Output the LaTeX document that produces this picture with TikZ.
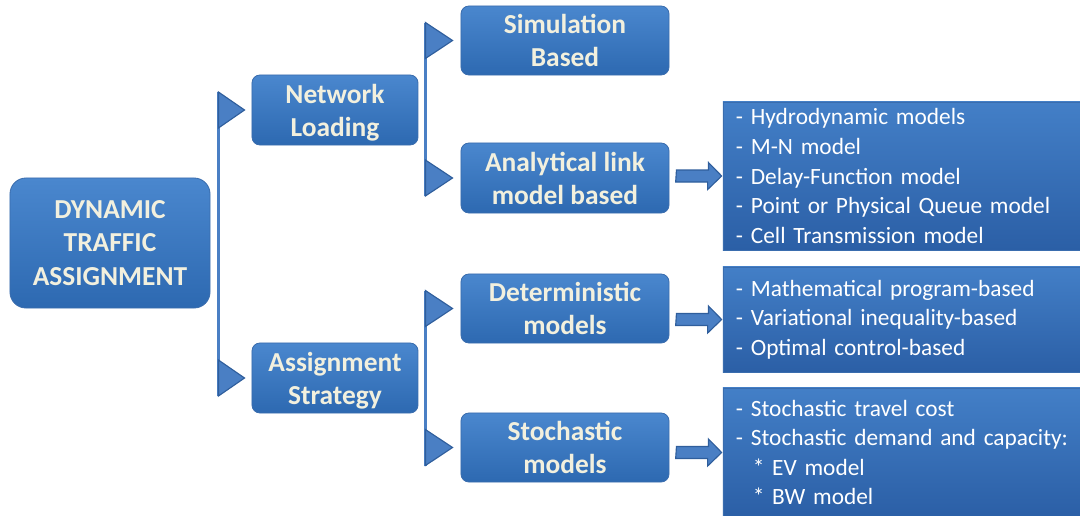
\documentclass[tikz,border=0pt]{standalone}
\usepackage{fontspec}
\setmainfont{Carlito}
\usepackage{tikz}
\usetikzlibrary{calc, shadows}
\definecolor{boxtop}{HTML}{4A87CE}
\definecolor{boxbot}{HTML}{2D69B1}
\definecolor{boxline}{HTML}{3A6DAE}
\definecolor{listtop}{HTML}{437FC7}
\definecolor{listbot}{HTML}{2B5FA6}
\definecolor{brfill}{HTML}{4A7FC4}
\definecolor{brline}{HTML}{2F5E9C}
\definecolor{titletext}{HTML}{F2F0DE}
\tikzset{
  catbox/.style={draw=boxline, line width=0.6pt, top color=boxtop, bottom color=boxbot,
    rounded corners=0.2cm, inner sep=2pt, text=titletext, align=center, text depth=0pt,
    font=\fontsize{19.5}{23.5}\selectfont\bfseries},
  listbox/.style={draw=boxline, line width=0.4pt, top color=listtop, bottom color=listbot,
    inner xsep=0.325cm, inner ysep=2pt, text width=8.275cm, align=left, text=white,
    font=\fontsize{16.6}{21}\selectfont},
  brbar/.style={draw=brfill, line width=2.2pt},
  brtri/.style={fill=brfill, draw=brline, line width=0.8pt, line join=miter},
  blockarr/.style={fill=brfill, draw=brline, line width=0.8pt, line join=miter}
}

\begin{document}
\begin{tikzpicture}[x=0.025cm, y=-0.025cm]
\useasboundingbox (0,0) rectangle (1080,515);

% main and first level
\node[catbox, rounded corners=0.4cm, minimum width=5cm, minimum height=3.25cm] (dta) at (110,243) {DYNAMIC\\TRAFFIC\\ASSIGNMENT};
\node[catbox, minimum width=4.15cm, minimum height=1.75cm] (nl) at (335,110) {Network\\Loading};
\node[catbox, minimum width=4.15cm, minimum height=1.75cm] (as) at (335,378) {Assignment\\Strategy};

% second level
\node[catbox, minimum width=5.2cm, minimum height=1.725cm] (sb) at (565,40.5) {Simulation\\Based};
\node[catbox, minimum width=5.2cm, minimum height=1.75cm] (an) at (565,178) {Analytical link\\model based};
\node[catbox, minimum width=5.2cm, minimum height=1.725cm] (dm) at (565,308.5) {Deterministic\\models};
\node[catbox, minimum width=5.2cm, minimum height=1.725cm] (st) at (565,447.5) {Stochastic\\models};

% model lists
\node[listbox, minimum height=3.7cm] (l1) at (901.5,176) {- Hydrodynamic models\\- M-N model\\- Delay-Function model\\- Point or Physical Queue model\\- Cell Transmission model};
\node[listbox, minimum height=2.625cm] (l2) at (901.5,319.5) {- Mathematical program-based\\- Variational inequality-based\\- Optimal control-based};
\node[listbox, minimum height=3.225cm] (l3) at (901.5,452.5) {- Stochastic travel cost\\\mbox{- Stochastic demand and capacity:}\\\hspace*{0.42cm}* EV model\\\hspace*{0.42cm}* BW model};

% brackets
\coordinate (b1) at ($(dta.east)+(8,0)$);
\coordinate (b2) at ($(nl.east)+(7,0)$);
\coordinate (b3) at ($(as.east)+(7,0)$);
\draw[brbar] ($(b1 |- nl.west)+(0,-18)$) -- ($(b1 |- as.west)+(0,18)$);
\draw[brbar] ($(b2 |- sb.west)+(0,-18)$) -- ($(b2 |- an.west)+(0,18)$);
\draw[brbar] ($(b3 |- dm.west)+(0,-18)$) -- ($(b3 |- st.west)+(0,18)$);
\filldraw[brtri] ($(b1 |- nl.west)+(0,-18)$) -- ($(nl.west)+(-7,0)$) -- ($(b1 |- nl.west)+(0,18)$) -- cycle;
\filldraw[brtri] ($(b1 |- as.west)+(0,-18)$) -- ($(as.west)+(-7,0)$) -- ($(b1 |- as.west)+(0,18)$) -- cycle;
\filldraw[brtri] ($(b2 |- sb.west)+(0,-18)$) -- ($(sb.west)+(-8,0)$) -- ($(b2 |- sb.west)+(0,18)$) -- cycle;
\filldraw[brtri] ($(b2 |- an.west)+(0,-18)$) -- ($(an.west)+(-8,0)$) -- ($(b2 |- an.west)+(0,18)$) -- cycle;
\filldraw[brtri] ($(b3 |- dm.west)+(0,-18)$) -- ($(dm.west)+(-8,0)$) -- ($(b3 |- dm.west)+(0,18)$) -- cycle;
\filldraw[brtri] ($(b3 |- st.west)+(0,-18)$) -- ($(st.west)+(-8,0)$) -- ($(b3 |- st.west)+(0,18)$) -- cycle;

% block arrows to the lists
\filldraw[blockarr] ($(an.east |- l1.west)+(7,-6)$) -- ++(32,0) -- ++(0,-7.5) -- ($(l1.west)+(-1,0)$) -- ++(-14,13.5) -- ++(0,-7.5) -- ++(-32,0) -- cycle;
\filldraw[blockarr] ($(dm.east |- l2.west)+(7,-6)$) -- ++(32,0) -- ++(0,-7.5) -- ($(l2.west)+(-1,0)$) -- ++(-14,13.5) -- ++(0,-7.5) -- ++(-32,0) -- cycle;
\filldraw[blockarr] ($(st.east |- l3.west)+(7,-6)$) -- ++(32,0) -- ++(0,-7.5) -- ($(l3.west)+(-1,0)$) -- ++(-14,13.5) -- ++(0,-7.5) -- ++(-32,0) -- cycle;

\end{tikzpicture}
\end{document}
